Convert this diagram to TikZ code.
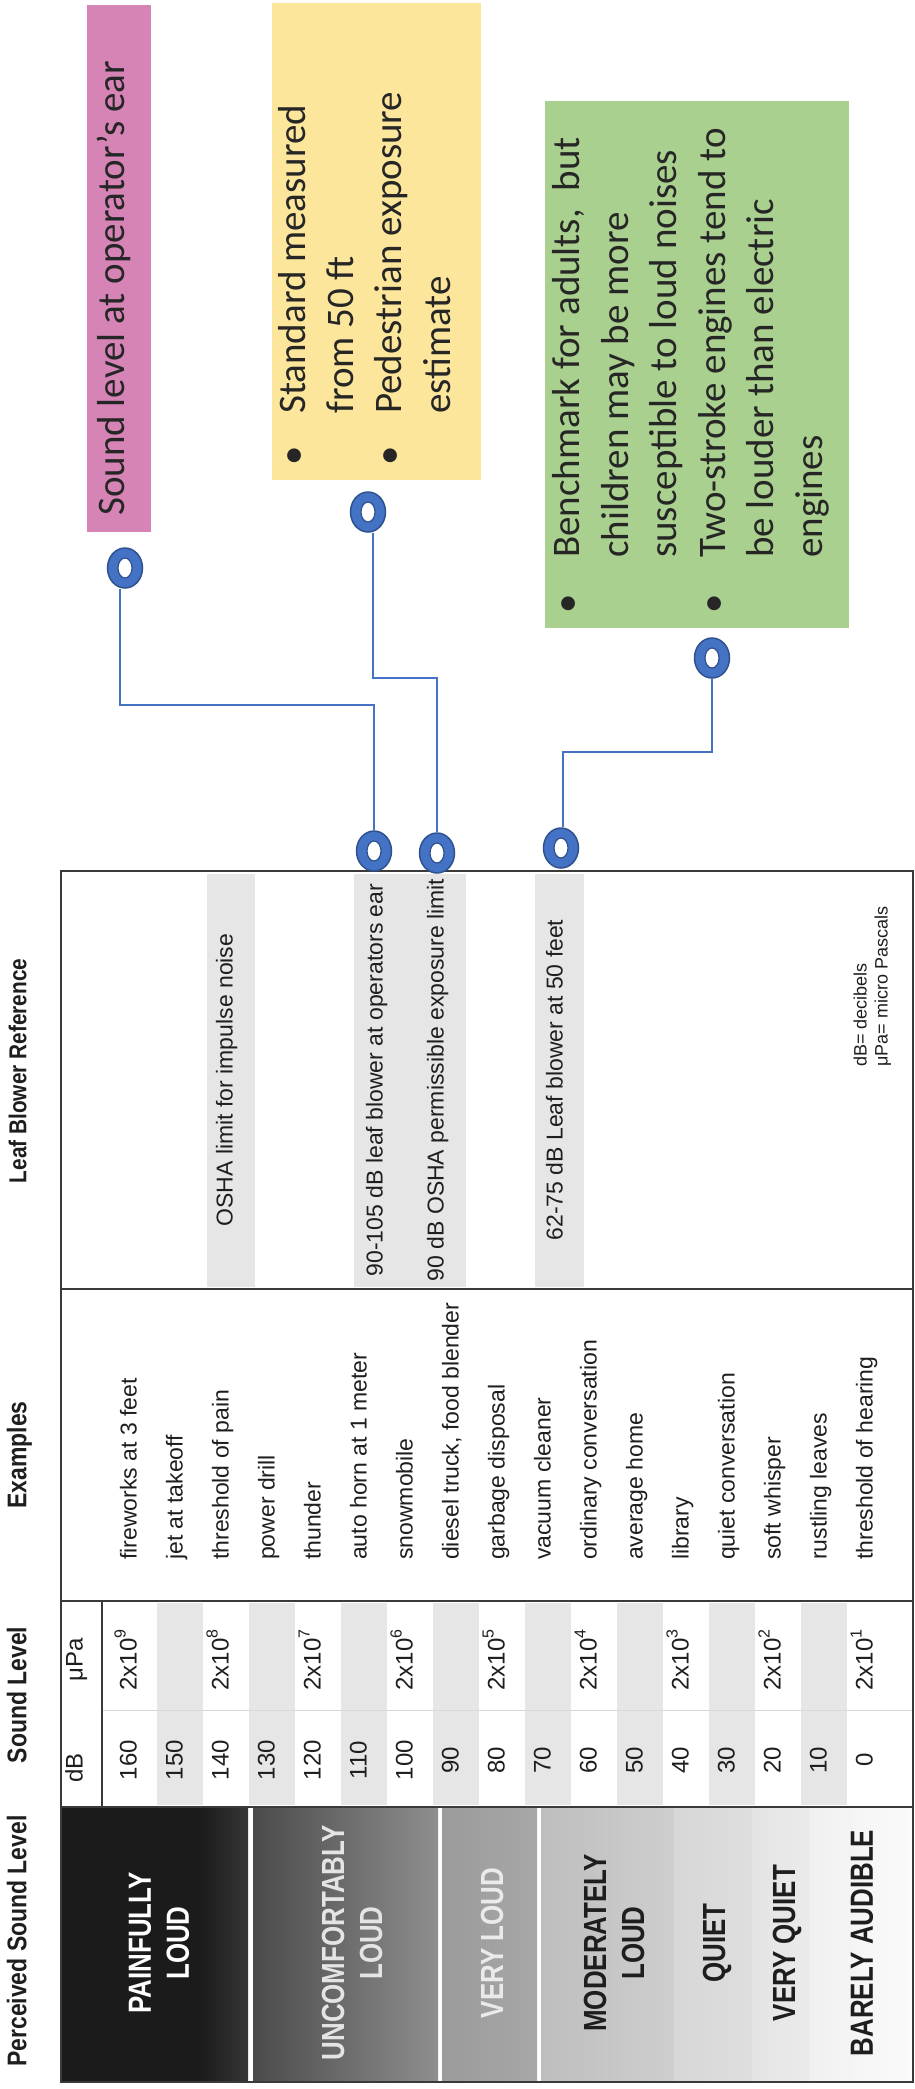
\documentclass[tikz,border=0pt]{standalone}
\usepackage{fontspec}
\setmainfont{Liberation Sans}
\newfontfamily\calib{Carlito}
\newfontfamily\condf[FakeStretch=0.81]{Liberation Sans}
\newfontfamily\headf[FakeStretch=0.85]{Liberation Sans}
\usetikzlibrary{shapes.geometric,calc}
\definecolor{lineg}{HTML}{3A3A3A}
\definecolor{txt}{HTML}{1E1E1E}
\definecolor{stripeg}{HTML}{E6E6E6}
\definecolor{pinkc}{HTML}{D683B6}
\definecolor{yellowc}{HTML}{FCE69B}
\definecolor{greenc}{HTML}{A9D08E}
\definecolor{calltext}{HTML}{262626}
\definecolor{ringblue}{HTML}{4472C4}
\definecolor{ringdark}{HTML}{2F528F}
\definecolor{plA}{HTML}{1B1B1B}
\definecolor{plB}{HTML}{363636}
\definecolor{ulA}{HTML}{4B4B4B}
\definecolor{ulB}{HTML}{8E8E8E}
\definecolor{vlA}{HTML}{9B9B9B}
\definecolor{vlB}{HTML}{A7A7A7}
\definecolor{mlA}{HTML}{BEBEBE}
\definecolor{mlB}{HTML}{CECECE}
\definecolor{qA}{HTML}{D7D7D7}
\definecolor{qB}{HTML}{DEDEDE}
\definecolor{vqA}{HTML}{E4E4E4}
\definecolor{vqB}{HTML}{EBEBEB}
\definecolor{baA}{HTML}{F0F0F0}
\definecolor{baB}{HTML}{FBFBFB}
\definecolor{ultext}{HTML}{E4E4E4}
\definecolor{vltext}{HTML}{EAEAEA}
\begin{document}
\begin{tikzpicture}[x=1pt,y=-1pt,
  rt/.style={rotate=90,inner sep=0pt,text height=0.7em,text depth=0.2em},
  bodytxt/.style={rt,font=\fontsize{23}{27}\selectfont,text=txt},
  numtxt/.style={rt,font=\fontsize{24}{28}\selectfont,text=txt},
  headtxt/.style={rt,font=\headf\bfseries\fontsize{27}{30}\selectfont,text=txt},
  psltxt/.style={rotate=90,inner sep=0pt,align=center,font=\condf\bfseries\fontsize{32}{38}\selectfont},
  calltxt/.style={rt,anchor=west,font=\calib\fontsize{39}{48}\selectfont,text=calltext},
  bul/.style={rt,font=\calib\fontsize{39}{48}\selectfont,text=calltext},
  tline/.style={draw=lineg,line width=2.5pt},
  ring/.style={ellipse,draw=ringdark,fill=ringblue,line width=1.5pt,minimum width=35pt,minimum height=40pt,inner sep=0pt},
  conn/.style={draw=ringblue,line width=1.3pt}]
\fill[white] (0,0) rectangle (914,2089);
\path[use as bounding box] (0,0) rectangle (914,2089);

% callout boxes
\fill[pinkc] (87,5) rectangle (151,532);
\fill[yellowc] (272,3) rectangle (481,480);
\fill[greenc] (545,101) rectangle (849,628);

% leaf blower stripes
\fill[stripeg] (207,874) rectangle (255,1287);
\fill[stripeg] (354,874) rectangle (466,1287);
\fill[stripeg] (535,874) rectangle (584,1287);

% sound level stripes
\foreach \i in {1,3,...,15} {
  \fill[stripeg] ({134+46*\i-23},1603) rectangle ({134+46*\i+23},1805);
}

% perceived sound level cells
\fill[plA] (62,1808) rectangle (200,2081);
\shade[left color=plA,right color=plB] (200,1808) rectangle (248,2081);
\shade[left color=ulA,right color=ulB] (253,1808) rectangle (438,2081);
\shade[left color=vlA,right color=vlB] (442,1808) rectangle (537,2081);
\shade[left color=mlA,right color=mlB] (541,1808) rectangle (674,2081);
\shade[left color=qA,right color=qB] (674,1808) rectangle (752,2081);
\shade[left color=vqA,right color=vqB] (752,1808) rectangle (810,2081);
\shade[left color=baA,right color=baB] (810,1808) rectangle (912,2081);

% table lines
\draw[draw=black!15,line width=1pt] (102,1710) -- (913,1710);
\draw[tline] (61,871) rectangle (913,2082);
\draw[tline] (61,1289) -- (913,1289);
\draw[tline] (61,1601) -- (913,1601);
\draw[tline] (61,1807) -- (913,1807);
\draw[tline] (102,1601) -- (102,1807);

% headers
\node[headtxt] (hPSL) at (24,1941) {Perceived Sound Level};
\node[headtxt] (hSL) at (24,1695) {Sound Level};
\node[headtxt] (hEx) at (24,1455) {Examples};
\node[headtxt,font=\headf\bfseries\fontsize{24.5}{28}\selectfont] (hLBR) at (24,1071) {Leaf Blower Reference};

% sub headers
\node[numtxt] (hdB) at (80,1768) {dB};
\node[numtxt] (hmu) at (80,1660) {μPa};

% dB values
\foreach \d [count=\i from 0] in {160,150,140,130,120,110,100,90,80,70,60,50,40,30,20,10,0} {
  \node[numtxt] (db\i) at ({134+46*\i},1760) {\d};
}
% micro Pascal values
\foreach \i in {0,2,...,16} {
  \pgfmathtruncatemacro\ex{9-\i/2}
  \node[numtxt] (mu\i) at ({134+46*\i},1660) {2x10\raisebox{0.45em}{\fontsize{16}{16}\selectfont\ex}};
}
% examples
\foreach \t [count=\i from 0] in {fireworks at 3 feet, jet at takeoff, threshold of pain, power drill, thunder, auto horn at 1 meter, snowmobile, {diesel truck, food blender}, garbage disposal, vacuum cleaner, ordinary conversation, average home, library, quiet conversation, soft whisper, rustling leaves, threshold of hearing} {
  \node[bodytxt,anchor=west] (ex\i) at ({134+46*\i},1560) {\t};
}

% leaf blower reference
\node[bodytxt] (lb1) at (230,1080) {OSHA limit for impulse noise};
\node[bodytxt] (lb2) at (380,1080) {90-105 dB leaf blower at operators ear};
\node[bodytxt] (lb3) at (441,1080) {90 dB OSHA permissible exposure limit};
\node[bodytxt] (lb4) at (560,1080) {62-75 dB Leaf blower at 50 feet};

% footnote
\node[rt,anchor=west,font=\fontsize{18}{21}\selectfont,text=txt] (fn1) at (864,1067) {dB= decibels};
\node[rt,anchor=west,font=\fontsize{18}{21}\selectfont,text=txt] (fn2) at (885,1067) {μPa= micro Pascals};

% perceived sound level labels
\node[psltxt,text=white] (pslPL) at (159,1943) {PAINFULLY\\LOUD};
\node[psltxt,text=ultext] (pslUL) at (352,1943) {UNCOMFORTABLY\\LOUD};
\node[psltxt,text=vltext] (pslVL) at (492,1943) {VERY LOUD};
\node[psltxt,text=txt] (pslML) at (614,1943) {MODERATELY\\LOUD};
\node[psltxt,text=txt] (pslQ) at (717,1943) {QUIET};
\node[psltxt,text=txt] (pslVQ) at (787,1943) {VERY QUIET};
\node[psltxt,text=txt] (pslBA) at (862,1943) {BARELY AUDIBLE};

% callout texts
\node[calltxt] (pk) at (122,516) {Sound level at operator’s ear};

\node[bul] (yb1) at (303,456) {•};
\node[calltxt] (y1) at (303,414) {Standard measured};
\node[calltxt] (y2) at (351,414) {from 50 ft};
\node[bul] (yb2) at (399,456) {•};
\node[calltxt] (y3) at (399,414) {Pedestrian exposure};
\node[calltxt] (y4) at (448,414) {estimate};

\node[bul] (gb1) at (577,604) {•};
\node[calltxt] (g1) at (577,558) {Benchmark for adults,\ \ but};
\node[calltxt] (g2) at (626,558) {children may be more};
\node[calltxt] (g3) at (674,558) {susceptible to loud noises};
\node[bul] (gb2) at (723,604) {•};
\node[calltxt] (g4) at (723,558) {Two-stroke engines tend to};
\node[calltxt] (g5) at (771,558) {be louder than electric};
\node[calltxt] (g6) at (820,558) {engines};

% rings
\node[ring] (cP) at (125,568) {};
\node[ring] (cY) at (368,512) {};
\node[ring] (cG) at (712,658) {};
\node[ring] (r1) at (374,851) {};
\node[ring] (r2) at (437,853) {};
\node[ring] (r3) at (561,848) {};
\foreach \n in {cP,cY,cG,r1,r2,r3} {
  \filldraw[fill=white,draw=ringdark,line width=1.2pt] (\n.center) ellipse [x radius=7pt,y radius=10pt];
}

% connectors
\coordinate (k1) at (374,705);
\coordinate (k2) at (437,678);
\coordinate (k3) at (563,752);
\draw[conn] ([xshift=-5pt]cP.south) |- (k1) -- (r1.north);
\draw[conn] ([xshift=5pt]cY.south) |- (k2) -- (r2.north);
\draw[conn] (cG.south) |- (k3) -- ([xshift=2pt]r3.north);
\end{tikzpicture}
\end{document}
